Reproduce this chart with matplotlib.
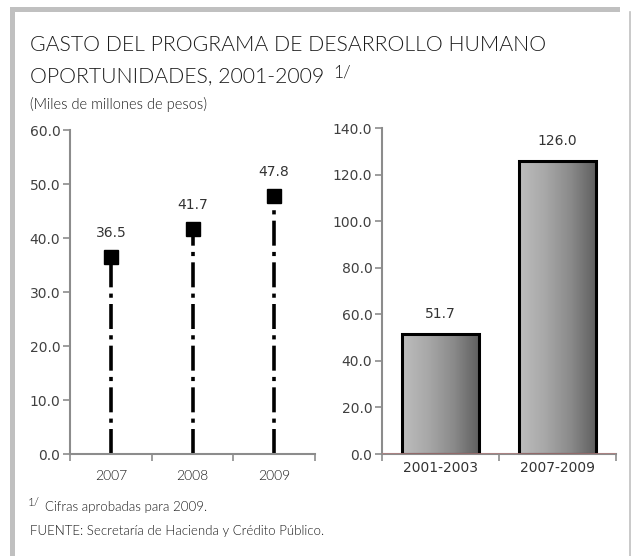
import matplotlib
matplotlib.use("Agg")
import matplotlib.pyplot as plt
import numpy as np
from matplotlib.patches import Rectangle
from matplotlib.lines import Line2D
from matplotlib.colors import LinearSegmentedColormap
from matplotlib import font_manager as fm

years = ["2007", "2008", "2009"]
year_values = [36.5, 41.7, 47.8]
periods = ["2001-2003", "2007-2009"]
period_values = [51.7, 126.0]
left_ticks = [0, 10, 20, 30, 40, 50, 60]
right_ticks = [0, 20, 40, 60, 80, 100, 120, 140]

def find_light():
    wmap = {"ultralight": 200, "light": 300, "normal": 400, "regular": 400, "book": 400}
    for fam in ["Lato", "Open Sans", "Noto Sans", "Roboto", "Inter"]:
        for f in fm.fontManager.ttflist:
            w = f.weight
            if isinstance(w, str):
                w = wmap.get(w.lower(), 400)
            if f.name == fam and f.style == "normal" and 280 <= w <= 320:
                return f.fname
    return None

light_path = find_light()
if light_path:
    fp_light = fm.FontProperties(fname=light_path)
else:
    fp_light = fm.FontProperties(family="Lato")

plt.rcParams['lines.scale_dashes'] = False
W, H = 631, 556
fig = plt.figure(figsize=(W / 100, H / 100), dpi=100)
fig.patch.set_facecolor("white")

def fx(px):
    return px / W

def fy(py):
    return 1 - py / H

def ltext(x, y, s, size, **kw):
    p = fp_light.copy()
    p.set_size(size)
    return fig.text(fx(x), fy(y), s, fontproperties=p, color="#1a1a1a", **kw)

# frame
frame_c = "#c0c0c0"
fig.add_artist(Rectangle((fx(10), 0), fx(5), fy(7), transform=fig.transFigure, color=frame_c, lw=0))
fig.add_artist(Rectangle((fx(10), fy(12)), fx(620) - fx(10), fy(7) - fy(12), transform=fig.transFigure, color=frame_c, lw=0))
fig.add_artist(Line2D([fx(629.5), fx(629.5)], [0, fy(12)], transform=fig.transFigure, color=frame_c, lw=1.2))

ltext(30, 45, "GASTO DEL PROGRAMA DE DESARROLLO HUMANO", 15.3, va="center", ha="left")
ltext(30, 76, "OPORTUNIDADES, 2001-2009", 15.3, va="center", ha="left")
ltext(333, 72, "1/", 12.5, va="center", ha="left")
ltext(30, 104, "(Miles de millones de pesos)", 10.5, va="center", ha="left")
ltext(28, 502, "1/", 8.5, va="center", ha="left")
ltext(45, 507, "Cifras aprobadas para 2009.", 9.5, va="center", ha="left")
ltext(30, 531, "FUENTE: Secretaría de Hacienda y Crédito Público.", 9.5, va="center", ha="left")

axis_c = "#8c8c8c"
tick_c = "#404040"

# left chart
ax1 = fig.add_axes([fx(70), fy(454), fx(315) - fx(70), fy(130) - fy(454)])
xs = np.arange(len(years))
for x, v in zip(xs, year_values):
    ln, = ax1.plot([x, x], [0, v], color="black", lw=2.6, solid_capstyle="butt")
    ln.set_dashes([18, 4.5, 3, 4.5])
    ln.set_dash_capstyle("butt")
ax1.plot(xs, year_values, ls="none", marker="s", ms=10.5, color="black", zorder=5)
for x, v in zip(xs, year_values):
    ax1.annotate(f"{v:.1f}", (x, v), xytext=(0, 12), textcoords="offset points",
                 ha="center", va="bottom", fontsize=10, color="#333333")
ax1.set_xlim(-0.5, len(years) - 0.5)
ax1.set_ylim(left_ticks[0], left_ticks[-1])
ax1.set_yticks(left_ticks)
ax1.set_yticklabels([f"{t:.1f}" for t in left_ticks])
ax1.set_xticks(np.arange(-0.5, len(years)), minor=False)
ax1.set_xticklabels([])
yp = fp_light.copy()
yp.set_size(10)
for x, lab in zip(xs, years):
    ax1.text(x, -0.068, lab, transform=ax1.get_xaxis_transform(), ha="center", va="center",
             fontproperties=yp, color="#1a1a1a")

# right chart
ax2 = fig.add_axes([fx(382), fy(454), fx(616) - fx(382), fy(128) - fy(454)])
xs2 = np.arange(len(periods))
bars = ax2.bar(xs2, period_values, width=0.665, facecolor="none", edgecolor="black", lw=2.2, zorder=3)
grad = np.linspace(0, 1, 256)[None, :]
cmap = LinearSegmentedColormap.from_list("g", ["#bdbdbd", "#a8a8a8", "#8a8a8a", "#5e5e5e"])
for b in bars:
    x0, y0, w, h = b.get_x(), b.get_y(), b.get_width(), b.get_height()
    im = ax2.imshow(grad, extent=[x0, x0 + w, y0, y0 + h], aspect="auto", cmap=cmap, zorder=2)
    im.set_clip_path(b)
for x, v in zip(xs2, period_values):
    ax2.annotate(f"{v:.1f}", (x, v), xytext=(0, 9), textcoords="offset points",
                 ha="center", va="bottom", fontsize=10, color="#333333")
ax2.set_xlim(-0.5, len(periods) - 0.5)
ax2.set_ylim(right_ticks[0], right_ticks[-1])
ax2.set_yticks(right_ticks)
ax2.set_yticklabels([f"{t:.1f}" for t in right_ticks])
ax2.set_xticks(np.arange(-0.5, len(periods)))
ax2.set_xticklabels([])
for x, lab in zip(xs2, periods):
    ax2.text(x, -0.043, lab, transform=ax2.get_xaxis_transform(), ha="center", va="center",
             fontsize=10, color="#333333")
ax2.axhline(0, color="#b08080", lw=1.2, zorder=4)

for ax in (ax1, ax2):
    ax.set_facecolor("none")
    for s in ("top", "right"):
        ax.spines[s].set_visible(False)
    for s in ("left", "bottom"):
        ax.spines[s].set_color(axis_c)
        ax.spines[s].set_linewidth(1.5)
    ax.tick_params(axis="both", color=axis_c, width=1.2, length=5, labelsize=10, labelcolor=tick_c)
    ax.tick_params(axis="y", pad=2)

fig.savefig("out.png", dpi=100, facecolor="white")
